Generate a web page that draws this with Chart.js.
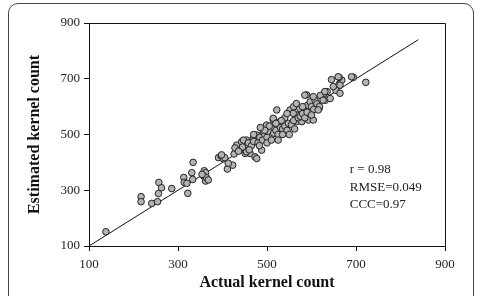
<!DOCTYPE html>
<html>
<head>
<meta charset="utf-8">
<script src="https://cdn.jsdelivr.net/npm/chart.js@4.4.1/dist/chart.umd.min.js"></script>
<style>
    body { margin: 0; background: #fff; overflow: hidden; }
    #wrap { position: relative; width: 481px; height: 296px; }
    #frame {
        position: absolute; left: 8px; top: 3px; width: 466px; height: 310px;
        border: 1px solid #444; border-radius: 10px; box-sizing: border-box;
    }
    canvas { position: absolute; left: 0; top: 0; }
</style>
</head>
<body>
<div id="wrap">
    <div id="frame"></div>
    <canvas id="chart" width="481" height="296"></canvas>
</div>
<script>
// actual vs estimated kernel count
const actual = [
    138, 217, 217, 241, 254, 257, 263, 256, 286, 313, 314, 322, 320, 334, 331, 333,
    359, 362, 357, 362, 364, 354, 368, 391, 397, 402, 405, 411, 423, 426, 398, 413,
    432, 443, 454, 439, 451, 428, 447, 462, 454, 473, 488, 477, 469, 477, 492, 506,
    510, 499, 510, 514, 529, 522, 555, 566, 589, 552, 559, 514, 566, 578, 593, 604,
    566, 574, 591, 597, 608, 589, 604, 617, 631, 642, 629, 635, 655, 664, 649, 645,
    662, 668, 662, 694, 722, 458, 465, 470, 480, 484, 490, 495, 500, 503, 515, 520,
    525, 530, 535, 540, 545, 548, 555, 560, 562, 570, 575, 580, 585, 590, 600, 605,
    612, 618, 540, 532, 520, 505, 495, 483, 460, 445, 436, 500, 525, 550, 510, 600,
    620, 580, 545, 485, 470, 535, 560, 690, 660, 664, 630, 626, 585, 566, 615
];
const estimated = [
    151, 277, 259, 253, 259, 328, 309, 288, 306, 346, 328, 289, 325, 400, 363, 339,
    370, 363, 352, 333, 345, 357, 337, 417, 423, 413, 417, 376, 390, 430, 427, 397,
    462, 474, 480, 444, 432, 452, 480, 432, 438, 420, 444, 414, 486, 498, 510, 486,
    498, 534, 523, 552, 546, 588, 588, 570, 588, 588, 576, 558, 546, 546, 552, 552,
    605, 593, 605, 617, 623, 642, 636, 593, 623, 629, 648, 654, 658, 648, 672, 697,
    680, 695, 705, 705, 687, 470, 460, 475, 470, 490, 480, 500, 490, 512, 505, 515,
    500, 525, 520, 530, 515, 540, 535, 550, 520, 560, 565, 575, 560, 580, 600, 590,
    610, 600, 560, 550, 540, 530, 515, 460, 445, 455, 440, 470, 480, 500, 480, 570,
    640, 600, 575, 525, 500, 500, 600, 707, 707, 677, 654, 623, 641, 611, 588
];
const fitLine = [100, 840];
const tickValues = [100, 300, 500, 700, 900];
const statLines = ['r = 0.98', 'RMSE=0.049', 'CCC=0.97'];
const statY = [373, 308, 247];
const statX = 686;

const points = actual.map((x, i) => ({ x: x, y: estimated[i] }));
const serif = '"Liberation Serif", "DejaVu Serif", serif';

const boxPlugin = {
    id: 'box',
    afterDraw(chart) {
        const a = chart.chartArea;
        const ctx = chart.ctx;
        ctx.save();
        ctx.strokeStyle = '#111';
        ctx.lineWidth = 1;
        ctx.beginPath();
        ctx.moveTo(a.left, a.top + 0.5);
        ctx.lineTo(a.right + 0.5, a.top + 0.5);
        ctx.lineTo(a.right + 0.5, a.bottom);
        ctx.stroke();
        // stats text
        ctx.fillStyle = '#222';
        ctx.font = '13px ' + serif;
        ctx.textBaseline = 'middle';
        ctx.textAlign = 'left';
        const xs = chart.scales.x, ys = chart.scales.y;
        statLines.forEach((t, i) => {
            ctx.fillText(t, xs.getPixelForValue(statX), ys.getPixelForValue(statY[i]));
        });
        ctx.restore();
    }
};

const axisCommon = {
    type: 'linear',
    min: 100,
    max: 900,
    afterBuildTicks: scale => { scale.ticks = tickValues.map(v => ({ value: v })); },
    grid: { drawOnChartArea: false, drawTicks: true, tickLength: 5, color: '#111' },
    border: { display: true, color: '#111', width: 1 }
};

new Chart(document.getElementById('chart'), {
    type: 'scatter',
    data: {
        datasets: [{
            data: points,
            pointRadius: 3.3,
            pointBackgroundColor: '#b3b3b3',
            pointBorderColor: '#222',
            pointBorderWidth: 1,
            order: 1
        }, {
            type: 'line',
            data: fitLine.map(v => ({ x: v, y: v })),
            borderColor: '#111',
            borderWidth: 1,
            pointRadius: 0,
            fill: false,
            order: 2
        }]
    },
    options: {
        responsive: false,
        animation: false,
        devicePixelRatio: 1,
        layout: { padding: { left: 25, top: 23, right: 36, bottom: 4 } },
        plugins: { legend: { display: false }, tooltip: { enabled: false } },
        scales: {
            x: Object.assign({}, axisCommon, {
                afterFit: scale => { scale.height = 46; },
                ticks: { color: '#222', font: { family: serif, size: 13 }, padding: 6 },
                title: {
                    display: true, text: 'Actual kernel count', color: '#111',
                    font: { family: serif, size: 16, weight: 'bold' }, padding: { top: 0, bottom: 0 }
                }
            }),
            y: Object.assign({}, axisCommon, {
                afterFit: scale => { scale.width = 64; },
                ticks: { color: '#222', font: { family: serif, size: 13 }, padding: 4 },
                title: {
                    display: true, text: 'Estimated kernel count', color: '#111',
                    font: { family: serif, size: 16, weight: 'bold' }, padding: { top: 0, bottom: 0 }
                }
            })
        }
    },
    plugins: [boxPlugin]
});
</script>
</body>
</html>
